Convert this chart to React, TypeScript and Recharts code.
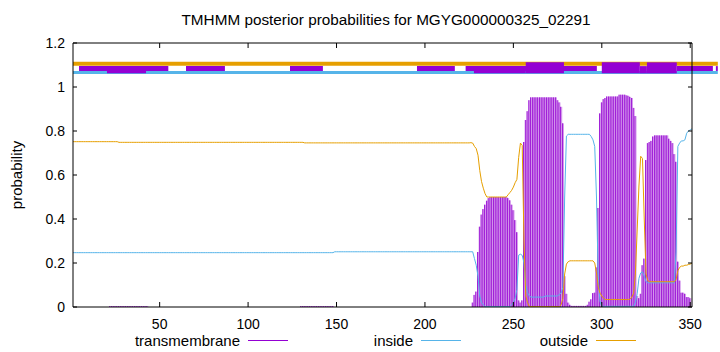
import React from 'react';
import {
  ComposedChart, Bar, Line, XAxis, YAxis, ReferenceLine, ReferenceArea,
} from 'recharts';

const FONT = '"Liberation Sans", Arial, Helvetica, sans-serif';
const PURPLE = '#9400d3';
const PURPLE_LIGHT = '#d59dec';
const SKY = '#56b4e9';
const ORANGE = '#e69f00';

const PLOT_LEFT = 73;
const PLOT_RIGHT = 692;
const PLOT_TOP = 43;
const PLOT_BOTTOM = 307;

const X_TICKS = [50, 100, 150, 200, 250, 300, 350];
const Y_TICKS = [0, 0.2, 0.4, 0.6, 0.8, 1, 1.2];
const X_MAX = 351;

// per-residue posterior probabilities, as [value, run length]
const TM_RUNS: [number, number][] = [
  [0, 21], [0.004, 22], [0, 86], [0.004, 19], [0, 78],
  [0.02, 1], [0.055, 1], [0.07, 1], [0.25, 1], [0.365, 1], [0.42, 1], [0.445, 1],
  [0.465, 1], [0.483, 1], [0.495, 1], [0.5, 10], [0.495, 1], [0.485, 1], [0.465, 1],
  [0.44, 1], [0.395, 1], [0.34, 1], [0.03, 1], [0.02, 1], [0.03, 1], [0.75, 1],
  [0.85, 1], [0.89, 1], [0.94, 1], [0.953, 15], [0.94, 1], [0.93, 1], [0.91, 1],
  [0.835, 1], [0.14, 1], [0.06, 1], [0.02, 1], [0.01, 1], [0.005, 9], [0.01, 1],
  [0.024, 1], [0.035, 1], [0.063, 1], [0.065, 1], [0.18, 1], [0.45, 1], [0.88, 1],
  [0.93, 1], [0.945, 1], [0.95, 1], [0.957, 7], [0.965, 4], [0.962, 1], [0.96, 1],
  [0.955, 1], [0.95, 1], [0.905, 1], [0.868, 1], [0.05, 1], [0.04, 1], [0.06, 1],
  [0.19, 1], [0.22, 1], [0.668, 1], [0.745, 1], [0.75, 1], [0.755, 1], [0.775, 1],
  [0.78, 8], [0.765, 1], [0.755, 1], [0.745, 1], [0.695, 1], [0.66, 1], [0.206, 1],
  [0.12, 1], [0.065, 2], [0.06, 1], [0.045, 2], [0.04, 1], [0, 1],
];

const INSIDE_RUNS: [number, number][] = [
  [0.247, 148], [0.251, 79],
  [0.22, 1], [0.19, 1], [0.14, 1], [0.05, 1], [0.02, 1], [0.01, 1], [0.002, 15],
  [0.01, 1], [0.02, 1], [0.04, 1], [0.08, 1], [0.236, 1], [0.24, 1], [0.235, 1],
  [0.2, 1], [0.1, 1], [0.065, 1], [0.05, 1], [0.045, 8], [0.05, 8], [0.058, 1],
  [0.063, 1], [0.09, 1], [0.5, 1], [0.777, 1], [0.785, 13], [0.775, 1], [0.76, 1],
  [0.73, 1], [0.5, 1], [0.12, 1], [0.025, 1], [0.003, 19], [0.02, 1], [0.06, 1],
  [0.13, 1], [0.155, 1], [0.16, 1], [0.14, 1], [0.115, 1], [0.11, 16], [0.25, 1],
  [0.73, 1], [0.745, 1], [0.755, 2], [0.76, 1], [0.79, 1], [0.8, 1], [0.805, 1],
  [0.81, 1],
];

const OUTSIDE_RUNS: [number, number][] = [
  [0.7515, 26], [0.7485, 105], [0.746, 94],
  [0.747, 1], [0.745, 1], [0.73, 1], [0.72, 1], [0.69, 1], [0.62, 1], [0.57, 1],
  [0.54, 1], [0.515, 1], [0.5, 12], [0.51, 1], [0.52, 1], [0.53, 1], [0.545, 1],
  [0.565, 1], [0.58, 1], [0.68, 1], [0.745, 1], [0.735, 1], [0.3, 1], [0.05, 1],
  [0.02, 1], [0.002, 18], [0.01, 1], [0.04, 1], [0.15, 1], [0.195, 1], [0.206, 1],
  [0.21, 14], [0.2, 1], [0.155, 1], [0.09, 1], [0.063, 1], [0.05, 1], [0.04, 1],
  [0.034, 14], [0.036, 1], [0.045, 1], [0.063, 1], [0.15, 1], [0.35, 1], [0.55, 1],
  [0.685, 1], [0.675, 1], [0.4, 1], [0.15, 1], [0.12, 1], [0.115, 15], [0.125, 1],
  [0.165, 1], [0.18, 1], [0.186, 2], [0.19, 2], [0.193, 1], [0.195, 1], [0.2, 1],
];

// topology strip above the curves (residue ranges)
const STRIP_END = 365.6;
const TOPO_THIN: [number, number][] = [
  [4.4, 54.9], [64.9, 86.9], [123.7, 142.3], [195.5, 216.9], [223, 278.6],
  [278.6, 297.2], [342.4, 362.8], [364.5, 365.6],
];
const TOPO_LOW: [number, number][] = [
  [20.2, 42.3], [227.7, 257], [321.5, 325.5],
];
const TOPO_FULL: [number, number][] = [
  [257, 278.6], [300, 321.5], [325.5, 342.4],
];

const expand = (runs: [number, number][]) =>
  runs.flatMap(([v, n]) => Array(n).fill(v) as number[]);

const tm = expand(TM_RUNS);
const inside = expand(INSIDE_RUNS);
const outside = expand(OUTSIDE_RUNS);
const rows = tm.map((v, i) => ({ pos: i + 1, tm: v, inside: inside[i], outside: outside[i] }));

const XTick = (props: any) => {
  const { x, payload } = props;
  return (
    <g>
      <line x1={x} x2={x} y1={PLOT_BOTTOM} y2={PLOT_BOTTOM - 5} stroke="#000" />
      <line x1={x} x2={x} y1={PLOT_TOP} y2={PLOT_TOP + 5} stroke="#000" />
      <text x={x} y={PLOT_BOTTOM + 17} dy="0.35em" textAnchor="middle" fill="#000"
        fontSize={14} fontFamily={FONT}>{payload.value}</text>
    </g>
  );
};

const YTick = (props: any) => {
  const { y, payload } = props;
  return (
    <g>
      <line x1={PLOT_LEFT} x2={PLOT_LEFT + 4} y1={y} y2={y} stroke="#000" />
      <line x1={PLOT_RIGHT} x2={PLOT_RIGHT - 4} y1={y} y2={y} stroke="#000" />
      <text x={PLOT_LEFT - 8} y={y} dy="0.35em" textAnchor="end" fill="#000"
        fontSize={14} fontFamily={FONT}>{String(payload.value)}</text>
    </g>
  );
};

// gnuplot-style impulse: thin dark stroke on a pale fill
const Impulse = (props: any) => {
  const { x, y, width, height } = props;
  if (!height || height <= 0) return null;
  return (
    <g>
      <rect x={x} y={y} width={width} height={height} fill={PURPLE_LIGHT} />
      <rect x={x} y={y} width={0.8} height={height} fill={PURPLE} />
    </g>
  );
};

const band = (key: string, x1: number, x2: number, y1: number, y2: number, color: string) => (
  <ReferenceArea key={key} x1={x1} x2={x2} y1={y1} y2={y2} fill={color} fillOpacity={1}
    stroke="none" ifOverflow="visible" />
);

const LegendItem = ({ label, color, right }: { label: string; color: string; right: number }) => (
  <>
    <div style={{ position: 'absolute', left: right - 200, width: 200, top: 331, textAlign: 'right',
      fontSize: 15, lineHeight: '20px' }}>{label}</div>
    <div style={{ position: 'absolute', left: right + 8, width: 40, top: 340, height: 1, background: color }} />
  </>
);

export default function App() {
  return (
    <div style={{ position: 'absolute', left: 0, top: 0, width: 720, height: 352, background: '#fff',
      fontFamily: FONT, color: '#000', overflow: 'hidden' }}>
      <div style={{ position: 'absolute', left: 0, width: 772, top: 10, textAlign: 'center',
        fontSize: 15.3, lineHeight: '20px' }}>
        TMHMM posterior probabilities for MGYG000000325_02291
      </div>
      <div style={{ position: 'absolute', left: 17 - 50, top: 175 - 10, width: 100, textAlign: 'center',
        fontSize: 15, lineHeight: '20px', transform: 'rotate(-90deg)' }}>probability</div>
      <ComposedChart width={720} height={352} data={rows}
        margin={{ top: PLOT_TOP, right: 720 - PLOT_RIGHT, bottom: 15, left: 0 }}
        barCategoryGap={0} barGap={0}>
        <XAxis dataKey="pos" type="number" domain={[1, X_MAX]} ticks={X_TICKS} interval={0}
          tick={<XTick />} tickLine={false} axisLine={{ stroke: '#000' }} height={30} />
        <YAxis type="number" domain={[0, 1.2]} ticks={Y_TICKS} interval={0} width={PLOT_LEFT}
          tick={<YTick />} tickLine={false} axisLine={{ stroke: '#000' }} />
        <Bar dataKey="tm" shape={<Impulse />} isAnimationActive={false} />
        <Line type="linear" dataKey="inside" stroke={SKY} strokeWidth={1} dot={false}
          isAnimationActive={false} />
        <Line type="linear" dataKey="outside" stroke={ORANGE} strokeWidth={1} dot={false}
          isAnimationActive={false} />
        {band('o', 1, STRIP_END, 1.097, 1.115, ORANGE)}
        {band('i', 1, STRIP_END, 1.059, 1.073, SKY)}
        {TOPO_THIN.map(([a, b], i) => band(`t${i}`, a, b, 1.073, 1.095, PURPLE))}
        {TOPO_LOW.map(([a, b], i) => band(`l${i}`, a, b, 1.062, 1.095, PURPLE))}
        {TOPO_FULL.map(([a, b], i) => band(`f${i}`, a, b, 1.062, 1.112, PURPLE))}
        <ReferenceLine y={1.2} stroke="#000" />
        <ReferenceLine x={X_MAX} stroke="#000" />
      </ComposedChart>
      <LegendItem label="transmembrane" color={PURPLE} right={240} />
      <LegendItem label="inside" color={SKY} right={413} />
      <LegendItem label="outside" color={ORANGE} right={588} />
    </div>
  );
}
